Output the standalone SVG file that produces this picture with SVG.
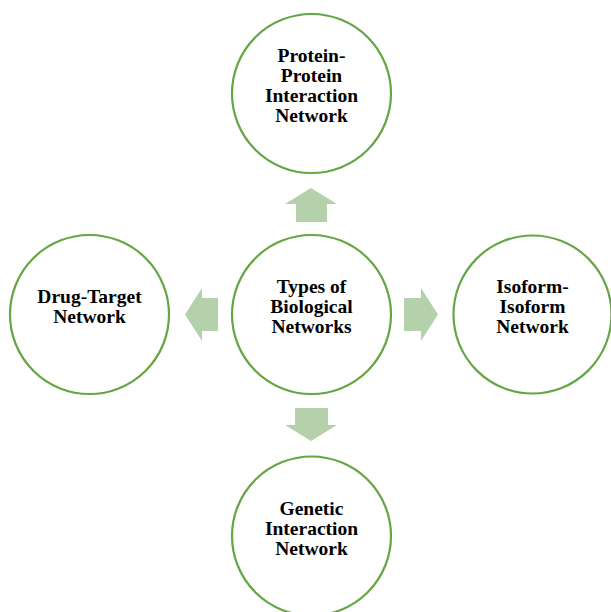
<svg xmlns="http://www.w3.org/2000/svg" width="611" height="612" viewBox="0 0 611 612">
<style>
.node circle{fill:#ffffff;stroke:#66A544;stroke-width:2.2}
.node text{font-family:"Liberation Serif","Times New Roman",serif;font-weight:bold;font-size:19.5px;fill:#000;text-anchor:middle}
.arrow{fill:#B5D1AC}
</style>
<rect width="611" height="612" fill="#ffffff"/>
<g id="connectors">
<polygon class="arrow" points="311,188 337,204 327,204 327,222 296,222 296,204 285,204"/>
<polygon class="arrow" points="311,441 337,425 328,425 328,408 295,408 295,425 285,425"/>
<polygon class="arrow" points="185,314.5 202,288 202,298 218,298 218,331 202,331 202,341"/>
<polygon class="arrow" points="438,314.5 421,288 421,298 404,298 404,331 421,331 421,341"/>
</g>
<g id="center" class="node">
<circle cx="311.5" cy="314.5" r="79.5"/>
<text x="311.5" y="293">Types of</text>
<text x="311.5" y="313">Biological</text>
<text x="311.5" y="333">Networks</text>
</g>
<g id="ppi" class="node">
<circle cx="311.5" cy="93.5" r="79.5"/>
<text x="311.5" y="62">Protein-</text>
<text x="311.5" y="82">Protein</text>
<text x="311.5" y="102">Interaction</text>
<text x="311.5" y="122">Network</text>
</g>
<g id="drug-target" class="node">
<circle cx="89.5" cy="314.5" r="79.5"/>
<text x="89.5" y="303">Drug-Target</text>
<text x="89.5" y="323">Network</text>
</g>
<g id="isoform" class="node">
<circle cx="532.5" cy="314.5" r="79"/>
<text x="532.5" y="293">Isoform-</text>
<text x="532.5" y="313">Isoform</text>
<text x="532.5" y="333">Network</text>
</g>
<g id="genetic" class="node">
<circle cx="311.5" cy="536" r="79.5"/>
<text x="311.5" y="515">Genetic</text>
<text x="311.5" y="535">Interaction</text>
<text x="311.5" y="555">Network</text>
</g>
</svg>
